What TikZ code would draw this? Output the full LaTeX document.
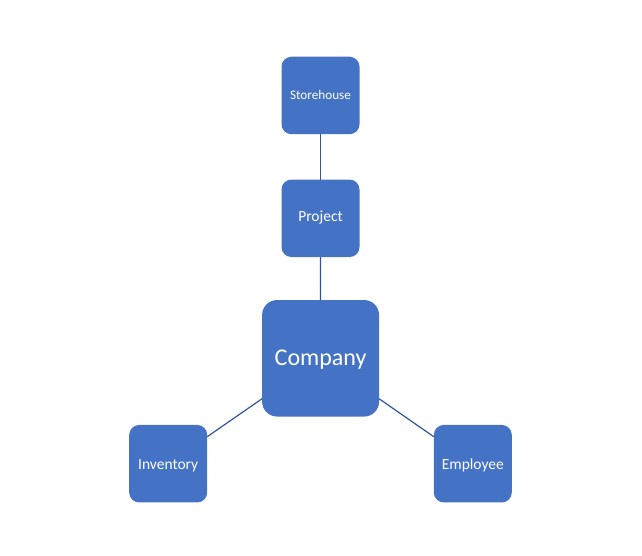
\documentclass[tikz,border=0pt]{standalone}
\usepackage{fontspec}
\setmainfont{Carlito}
\definecolor{boxblue}{HTML}{4472C4}
\definecolor{lineblue}{HTML}{2F5597}
\begin{document}
\begin{tikzpicture}[x=1pt,y=-1pt,
  box/.style={fill=boxblue, text=white, rounded corners=10pt, inner sep=0pt, outer sep=0pt,
    minimum width=78pt, minimum height=77.5pt, text height=13pt, text depth=2pt,
    font=\fontsize{15.5}{18}\selectfont},
  bigbox/.style={box, rounded corners=15pt, minimum width=117pt, minimum height=116.5pt,
    text height=17pt, text depth=3.6pt, font=\fontsize{24}{28}\selectfont},
  link/.style={draw=lineblue, line width=1.2pt}]
\useasboundingbox (0,0) rectangle (642,556);
\node[box, text height=11pt, text depth=2pt, font=\fontsize{13.2}{16}\selectfont] (store) at (320.5,95.5) {Storehouse};
\node[box, text height=10.5pt, text depth=3.5pt] (proj) at (320.5,218.3) {Project};
\node[bigbox] (comp) at (320.6,358.3) {Company};
\node[box] (inv) at (168.2,463.7) {Inventory};
\node[box] (emp) at (472.8,463.7) {Employee};
\draw[link] (store) -- (proj);
\draw[link] (proj) -- (comp);
\draw[link] (comp) -- (inv);
\draw[link] (comp) -- (emp);
\end{tikzpicture}
\end{document}
